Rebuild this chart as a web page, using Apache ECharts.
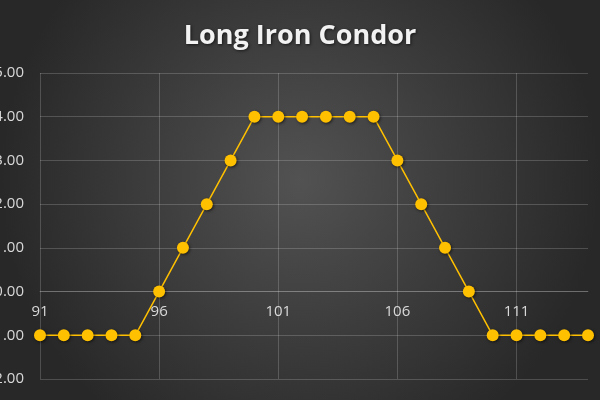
<!DOCTYPE html>
<html>
<head>
<meta charset="utf-8">
<script src="https://cdn.jsdelivr.net/npm/echarts@6/dist/echarts.min.js"></script>
<style>
html, body { margin: 0; padding: 0; }
#chart { width: 600px; height: 400px; }
</style>
</head>
<body>
<div id="chart"></div>
<script>
// strike prices on the x axis
var strikes = [91, 92, 93, 94, 95, 96, 97, 98, 99, 100, 101, 102,
               103, 104, 105, 106, 107, 108, 109, 110, 111, 112, 113, 114];
// payoff at each strike
var payoff = [-1, -1, -1, -1, -1, 0, 1, 2, 3, 4, 4, 4,
              4, 4, 4, 3, 2, 1, 0, -1, -1, -1, -1, -1];

var gridColor = 'rgba(255,255,255,0.18)';
var yMin = -2, yMax = 5;
var gridTop = 73, gridBottom = 21;

var myChart = echarts.init(document.getElementById('chart'));
// put the category labels just under the zero line
var plotH = 400 - gridTop - gridBottom;
var zeroOffset = -plotH * (0 - yMin) / (yMax - yMin);

var option = {
    backgroundColor: {
        type: 'radial', x: 0.5, y: 0.45, r: 0.75,
        colorStops: [
            { offset: 0, color: '#525252' },
            { offset: 1, color: '#282828' }
        ]
    },
    title: {
        text: 'Long Iron Condor',
        left: 'center',
        top: 18,
        textStyle: {
            color: '#f2f2f2',
            fontFamily: 'Open Sans',
            fontWeight: 'bold',
            fontSize: 27,
            textShadowColor: 'rgba(0,0,0,0.6)',
            textShadowBlur: 3,
            textShadowOffsetX: 1,
            textShadowOffsetY: 1
        }
    },
    grid: { left: 40, right: 12, top: gridTop, bottom: gridBottom, outerBoundsMode: 'none', containLabel: false },
    xAxis: {
        type: 'category',
        data: strikes,
        boundaryGap: false,
        offset: zeroOffset,
        axisLine: { onZero: false, lineStyle: { color: gridColor } },
        axisTick: { show: false },
        axisLabel: {
            interval: 4,
            color: '#d9d9d9',
            fontFamily: 'Open Sans',
            fontSize: 15,
            margin: 13
        },
        splitLine: { show: true, interval: 4, lineStyle: { color: gridColor, width: 1 } }
    },
    yAxis: {
        type: 'value',
        min: yMin,
        max: yMax,
        interval: 1,
        axisLine: { show: false },
        axisTick: { show: false },
        axisLabel: {
            color: '#d9d9d9',
            fontFamily: 'Open Sans',
            fontSize: 15,
            margin: 16,
            formatter: function (v) { return v.toFixed(2); }
        },
        splitLine: { lineStyle: { color: gridColor, width: 1 } }
    },
    series: [{
        type: 'line',
        data: payoff,
        symbol: 'circle',
        symbolSize: 12,
        lineStyle: { color: '#ffc000', width: 1.5 },
        itemStyle: {
            color: '#ffc000',
            shadowColor: 'rgba(0,0,0,0.6)',
            shadowBlur: 3,
            shadowOffsetX: 1,
            shadowOffsetY: 1
        },
        animation: false
    }]
};
myChart.setOption(option);
</script>
</body>
</html>
